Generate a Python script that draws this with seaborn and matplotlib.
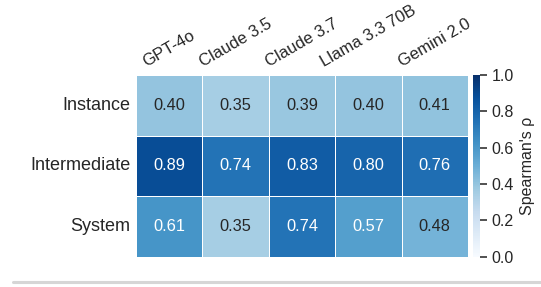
import pandas as pd
import seaborn as sns
import matplotlib.pyplot as plt
from matplotlib.lines import Line2D

models = ["GPT-4o", "Claude 3.5", "Claude 3.7", "Llama 3.3 70B", "Gemini 2.0"]
levels = ["Instance", "Intermediate", "System"]
instance = [0.40, 0.35, 0.39, 0.40, 0.41]
intermediate = [0.89, 0.74, 0.83, 0.80, 0.76]
system = [0.61, 0.35, 0.74, 0.57, 0.48]

df = pd.DataFrame([instance, intermediate, system], index=levels, columns=models)

sns.set_theme(style="white")
plt.rcParams["font.family"] = ["Liberation Sans", "DejaVu Sans"]

fig = plt.figure(figsize=(5.41, 2.87), dpi=100)
ax = fig.add_axes([0.251, 0.105, 0.614, 0.634])
cax = fig.add_axes([0.874, 0.105, 0.013, 0.634])

sns.heatmap(df, ax=ax, cbar_ax=cax, cmap="Blues", vmin=0, vmax=1,
            annot=True, fmt=".2f", annot_kws={"fontsize": 11.8},
            linewidths=0.5, linecolor="white",
            cbar_kws={"label": "Spearman's ρ", "ticks": [0, 0.2, 0.4, 0.6, 0.8, 1.0]})

ax.xaxis.tick_top()
ax.set_xticklabels(models, rotation=30, ha="center", fontsize=12)
ax.set_yticklabels(levels, rotation=0, fontsize=13)
ax.tick_params(length=0, pad=4)
ax.set_xlabel("")
ax.set_ylabel("")

cax.tick_params(labelsize=11.5, length=5, width=1.2, color="#333333", right=True)
cax.yaxis.label.set_size(11.5)
for s in cax.spines.values():
    s.set_visible(False)

fig.add_artist(Line2D([0.024, 1.0], [0.019, 0.019], transform=fig.transFigure,
                      color="#d6d6d6", linewidth=2.2))

fig.savefig("out.png", dpi=100)
